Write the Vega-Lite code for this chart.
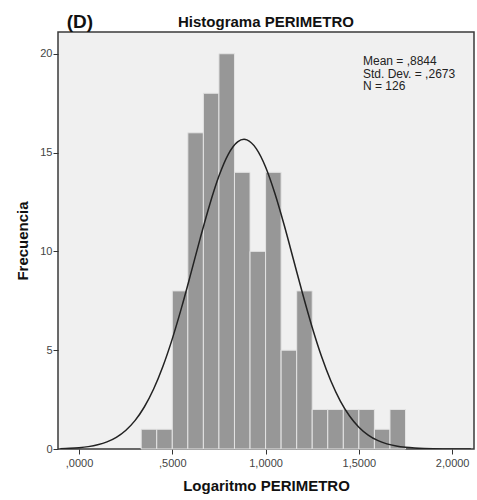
{
  "$schema": "https://vega.github.io/schema/vega-lite/v6.json",
  "width": 416,
  "height": 417,
  "autosize": {"type": "none"},
  "padding": {"left": 58, "top": 32, "right": 3, "bottom": 51},
  "background": "#ffffff",
  "config": {
    "view": {"fill": "#f0f0f0", "stroke": "#3a3a3a", "strokeWidth": 1.5},
    "font": "Liberation Sans"
  },
  "datasets": {
    "bins": [
      {"bin_start": 0.3333, "bin_end": 0.4167, "count": 1},
      {"bin_start": 0.4167, "bin_end": 0.5, "count": 1},
      {"bin_start": 0.5, "bin_end": 0.5833, "count": 8},
      {"bin_start": 0.5833, "bin_end": 0.6667, "count": 16},
      {"bin_start": 0.6667, "bin_end": 0.75, "count": 18},
      {"bin_start": 0.75, "bin_end": 0.8333, "count": 20},
      {"bin_start": 0.8333, "bin_end": 0.9167, "count": 14},
      {"bin_start": 0.9167, "bin_end": 1.0, "count": 10},
      {"bin_start": 1.0, "bin_end": 1.0833, "count": 14},
      {"bin_start": 1.0833, "bin_end": 1.1667, "count": 5},
      {"bin_start": 1.1667, "bin_end": 1.25, "count": 8},
      {"bin_start": 1.25, "bin_end": 1.3333, "count": 2},
      {"bin_start": 1.3333, "bin_end": 1.4167, "count": 2},
      {"bin_start": 1.4167, "bin_end": 1.5, "count": 2},
      {"bin_start": 1.5, "bin_end": 1.5833, "count": 2},
      {"bin_start": 1.5833, "bin_end": 1.6667, "count": 1},
      {"bin_start": 1.6667, "bin_end": 1.75, "count": 2}
    ],
    "curve": [
      {"x": -0.1, "y": 0.018}, {"x": -0.05, "y": 0.035}, {"x": 0.0, "y": 0.066},
      {"x": 0.05, "y": 0.12}, {"x": 0.1, "y": 0.211}, {"x": 0.15, "y": 0.359},
      {"x": 0.2, "y": 0.591}, {"x": 0.25, "y": 0.938}, {"x": 0.3, "y": 1.436},
      {"x": 0.35, "y": 2.125}, {"x": 0.4, "y": 3.034}, {"x": 0.45, "y": 4.186},
      {"x": 0.5, "y": 5.573}, {"x": 0.55, "y": 7.164}, {"x": 0.6, "y": 8.897},
      {"x": 0.65, "y": 10.67}, {"x": 0.7, "y": 12.35}, {"x": 0.75, "y": 13.81},
      {"x": 0.8, "y": 14.91}, {"x": 0.85, "y": 15.54}, {"x": 0.8844, "y": 15.67},
      {"x": 0.9, "y": 15.64}, {"x": 0.95, "y": 15.2}, {"x": 1.0, "y": 14.27},
      {"x": 1.05, "y": 12.93}, {"x": 1.1, "y": 11.32}, {"x": 1.15, "y": 9.565},
      {"x": 1.2, "y": 7.805}, {"x": 1.25, "y": 6.149}, {"x": 1.3, "y": 4.679},
      {"x": 1.35, "y": 3.438}, {"x": 1.4, "y": 2.439}, {"x": 1.45, "y": 1.67},
      {"x": 1.5, "y": 1.105}, {"x": 1.55, "y": 0.706}, {"x": 1.6, "y": 0.435},
      {"x": 1.65, "y": 0.259}, {"x": 1.7, "y": 0.149}, {"x": 1.75, "y": 0.083},
      {"x": 1.8, "y": 0.045}, {"x": 1.85, "y": 0.023}, {"x": 1.9, "y": 0.012},
      {"x": 1.95, "y": 0.006}, {"x": 2.0, "y": 0.003}, {"x": 2.05, "y": 0.001},
      {"x": 2.1, "y": 0.0005}
    ]
  },
  "layer": [
    {
      "data": {"name": "bins"},
      "mark": {"type": "rect", "fill": "#979797", "stroke": "#e4e4e4", "strokeWidth": 1},
      "encoding": {
        "x": {
          "field": "bin_start",
          "type": "quantitative",
          "scale": {"domain": [-0.1125, 2.117], "nice": false, "zero": false},
          "axis": {
            "title": "Logaritmo PERIMETRO",
            "titleFontSize": 15,
            "titleFontWeight": "bold",
            "titleColor": "#111111",
            "titlePadding": 10,
            "values": [0, 0.5, 1, 1.5, 2],
            "labelExpr": "datum.value < 1 ? replace(format(datum.value, '.4f'), '0.', ',') : replace(format(datum.value, '.4f'), '.', ',')",
            "labelFontSize": 11,
            "labelColor": "#444444",
            "labelPadding": 3,
            "tickSize": 5,
            "tickColor": "#333333",
            "domain": false,
            "grid": false
          }
        },
        "x2": {"field": "bin_end"},
        "y": {
          "field": "count",
          "type": "quantitative",
          "scale": {"domain": [0, 21.1], "nice": false},
          "axis": {
            "title": "Frecuencia",
            "titleFontSize": 15,
            "titleFontWeight": "bold",
            "titleColor": "#111111",
            "titlePadding": 9,
            "values": [0, 5, 10, 15, 20],
            "labelFontSize": 11,
            "labelColor": "#444444",
            "labelPadding": 1,
            "tickSize": 5,
            "tickColor": "#333333",
            "domain": false,
            "grid": false
          }
        },
        "y2": {"datum": 0}
      }
    },
    {
      "data": {"name": "curve"},
      "mark": {"type": "line", "color": "#222222", "strokeWidth": 1.5, "interpolate": "monotone", "clip": true},
      "encoding": {
        "x": {"field": "x", "type": "quantitative"},
        "y": {"field": "y", "type": "quantitative"}
      }
    },
    {
      "data": {"values": [{}]},
      "mark": {
        "type": "text",
        "text": ["Mean = ,8844", "Std. Dev. = ,2673", "N = 126"],
        "align": "left",
        "baseline": "alphabetic",
        "fontSize": 12,
        "lineHeight": 12.8,
        "color": "#222222"
      },
      "encoding": {
        "x": {"datum": 1.522},
        "y": {"datum": 19.44}
      }
    },
    {
      "data": {"values": [{}]},
      "mark": {
        "type": "text",
        "text": "(D)",
        "align": "center",
        "baseline": "alphabetic",
        "fontSize": 19,
        "fontWeight": "bold",
        "color": "#111111"
      },
      "encoding": {
        "x": {"datum": 0.005},
        "y": {"datum": 21.3}
      }
    },
    {
      "data": {"values": [{}]},
      "mark": {
        "type": "text",
        "text": "Histograma PERIMETRO",
        "align": "center",
        "baseline": "alphabetic",
        "fontSize": 15,
        "fontWeight": "bold",
        "color": "#111111"
      },
      "encoding": {
        "x": {"datum": 1.002},
        "y": {"datum": 21.35}
      }
    }
  ]
}
